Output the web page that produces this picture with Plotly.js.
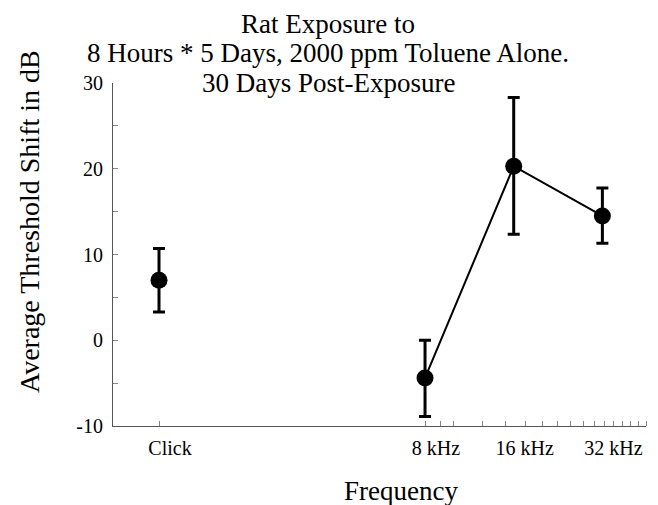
<!DOCTYPE html>
<html>
<head>
<meta charset="utf-8">
<script src="https://cdn.plot.ly/plotly-3.0.1.min.js"></script>
<style>html,body{margin:0;padding:0;background:#fff;}#chart{width:658px;height:505px;}</style>
</head>
<body>
<div id="chart"></div>
<script>
// Data (frequency in kHz; "Click" is plotted at the 1 kHz position)
const clickX = [1];
const clickY = [7.0];
const clickErrPlus = [3.7];
const clickErrMinus = [3.7];

const toneX = [8, 16, 32];
const toneY = [-4.4, 20.3, 14.5];
const toneErrPlus = [4.4, 8.0, 3.25];
const toneErrMinus = [4.5, 7.95, 3.2];

const xTickVals = [1, 8, 16, 32];
const xTickText = ['Click', '8 kHz', '16 kHz', '32 kHz'];
const xMinorTickVals = [1, 8, 9, 10, 12.5, 15, 17.5, 20, 22.5, 25, 27.5, 30, 32.5, 35, 37.5, 40, 42.5, 45];
const yTickVals = [-10, 0, 10, 20, 30];
const yTickText = ['-10', '0', '10', '20', '30'];

const titleLines = ['Rat Exposure to', '8 Hours * 5 Days, 2000 ppm Toluene Alone.', '30 Days Post-Exposure'];

const serif = 'Liberation Serif, Times New Roman, serif';

const markerStyle = {color: '#000', size: 17};
const errStyle = {type: 'data', symmetric: false, color: '#000', thickness: 3, width: 6};

const traces = [
  {
    x: clickX, y: clickY, type: 'scatter', mode: 'markers',
    marker: markerStyle,
    error_y: Object.assign({array: clickErrPlus, arrayminus: clickErrMinus}, errStyle),
    showlegend: false
  },
  {
    x: toneX, y: toneY, type: 'scatter', mode: 'lines+markers',
    line: {color: '#000', width: 2},
    marker: markerStyle,
    error_y: Object.assign({array: toneErrPlus, arrayminus: toneErrMinus}, errStyle),
    showlegend: false
  }
];

// plot area in pixels: x 113..646, y 83..426
const PL = 113, PR = 646, PT = 83, PB = 426;
const px = v => (v - PL) / (PR - PL);
const py = v => (PB - v) / (PB - PT);

const titleCenters = [24, 53, 83];
const annotations = titleLines.map((t, i) => ({
  text: t, xref: 'paper', yref: 'paper', x: px(328), y: py(titleCenters[i]),
  xanchor: 'center', yanchor: 'middle', showarrow: false,
  font: {family: serif, size: 27, color: '#000'}
}));
annotations.push(
  {text: 'Frequency', xref: 'paper', yref: 'paper', x: px(401), y: py(491),
   xanchor: 'center', yanchor: 'middle', showarrow: false,
   font: {family: serif, size: 27, color: '#000'}},
  {text: 'Average Threshold Shift in dB', xref: 'paper', yref: 'paper', x: px(29), y: py(222),
   xanchor: 'center', yanchor: 'middle', textangle: -90, showarrow: false,
   font: {family: serif, size: 28, color: '#000'}}
);

const layout = {
  width: 658, height: 505,
  margin: {l: PL, r: 658 - PR, t: PT, b: 505 - PB},
  paper_bgcolor: '#fff', plot_bgcolor: '#fff',
  font: {family: serif, color: '#000'},
  xaxis: {
    type: 'log',
    range: [Math.log10(0.698), Math.log10(45)],
    tickmode: 'array', tickvals: xTickVals, ticktext: xTickText,
    ticks: '', ticklabelshift: 11, ticklabelstandoff: 4,
    tickfont: {family: serif, size: 20, color: '#000'},
    showline: true, linecolor: '#555', linewidth: 1,
    showgrid: false, zeroline: false,
    minor: {tickmode: 'array', tickvals: xMinorTickVals, ticks: 'inside', ticklen: 5, tickcolor: '#888', tickwidth: 1, showgrid: false}
  },
  yaxis: {
    range: [-10, 30],
    tickmode: 'array', tickvals: yTickVals, ticktext: yTickText,
    ticks: 'inside', ticklen: 5, tickcolor: '#888', tickwidth: 1, ticklabelstandoff: 5,
    tickfont: {family: serif, size: 20, color: '#000'},
    showline: true, linecolor: '#555', linewidth: 1,
    showgrid: false, zeroline: false,
    minor: {tickmode: 'linear', tick0: -10, dtick: 5, ticks: 'inside', ticklen: 5, tickcolor: '#888', tickwidth: 1, showgrid: false}
  },
  annotations: annotations
};

Plotly.newPlot('chart', traces, layout, {displayModeBar: false, staticPlot: true});
</script>
</body>
</html>
